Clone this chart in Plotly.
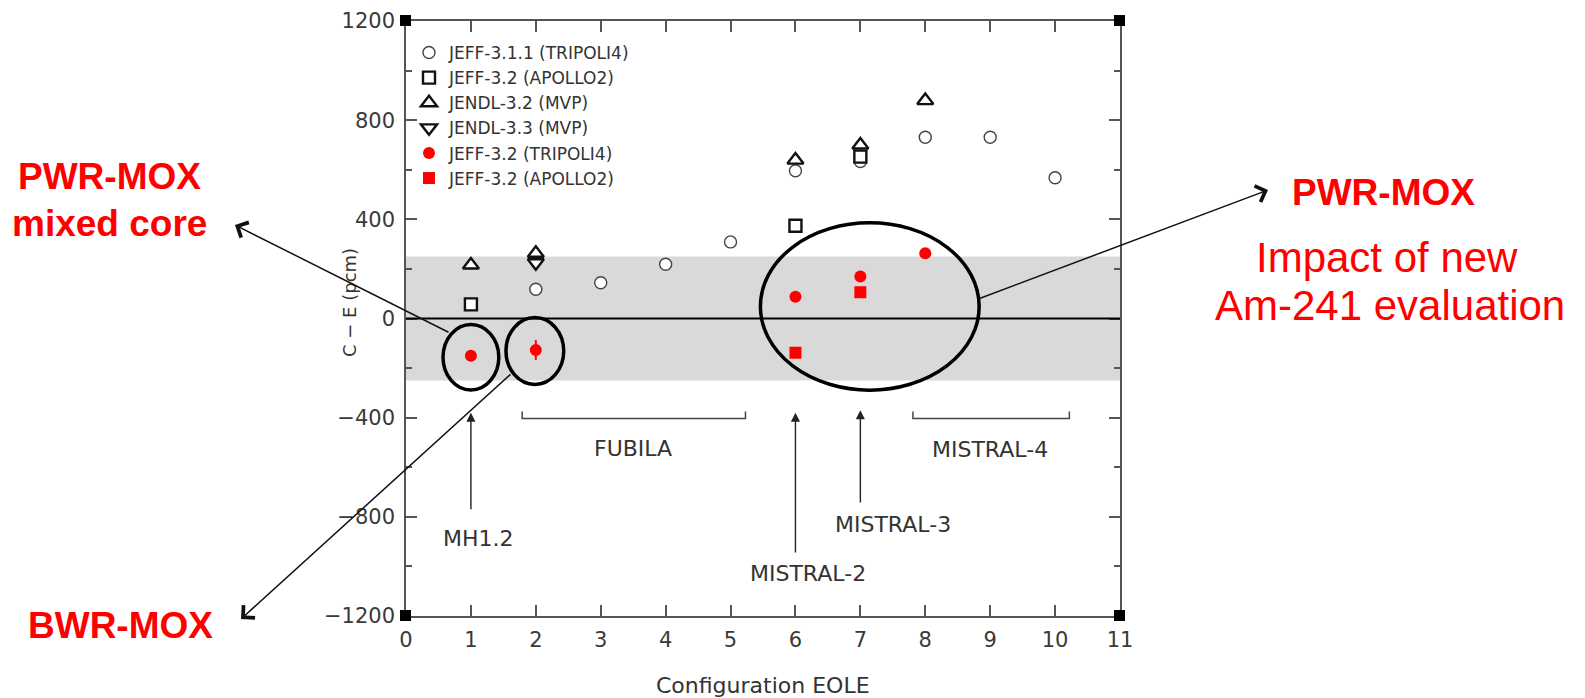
import plotly.graph_objects as go

# ---------------- data ----------------
x_ticks = list(range(0, 12))
y_ticks = [-1200, -800, -400, 0, 400, 800, 1200]

x_jeff311_trip = [2, 3, 4, 5, 6, 7, 8, 9, 10]
y_jeff311_trip = [118, 144, 219, 309, 596, 633, 731, 731, 568]

x_jeff32_apo = [1, 6, 7]
y_jeff32_apo = [57, 374, 653]

x_jendl32 = [1, 2, 6, 7, 8]
y_jendl32 = [216, 263, 639, 700, 879]

x_jendl33 = [2]
y_jendl33 = [225]

x_jeff32_trip = [1, 2, 6, 7, 8]
y_jeff32_trip = [-150, -127, 88, 169, 263]
err_jeff32_trip = [0, 40, 0, 0, 0]

x_jeff32_apo_new = [6, 7]
y_jeff32_apo_new = [-138, 106]

band_limit = 250

# ellipses (x0, x1, y0, y1) in data units
ellipses = [(0.57, 1.43, -288, -24), (1.54, 2.43, -266, 4), (5.46, 8.83, -289, 386)]

# campaign markers: (label, x_arrow, y_head, y_tail, x_label, y_label)
arrow_labels = [
    ("MH1.2", 1, -380, -775, 1.12, -887),
    ("MISTRAL-2", 6, -380, -950, 6.2, -1028),
    ("MISTRAL-3", 7, -370, -748, 7.5, -832),
]
# brackets: (label, x_start, x_end, y, x_label, y_label)
brackets = [
    ("FUBILA", 1.79, 5.23, -403, 3.5, -526),
    ("MISTRAL-4", 7.81, 10.22, -403, 9.0, -528),
]

# ---------------- figure ----------------
BODY = 8                      # default page body margin
W, H = 1585 - BODY, 698 - BODY
PL, PR, PT, PB = 406, 1120, 21, 616      # plot area in page pixels
L, T = PL - BODY, PT - BODY
R, B = W - (PR - BODY), H - (PB - BODY)
PW, PH = PR - PL, PB - PT


def px(X):
    return (X - PL) / PW


def py(Y):
    return (PB - Y) / PH


fig = go.Figure()

fig.add_trace(go.Scatter(
    x=x_jeff311_trip, y=y_jeff311_trip, mode="markers", name="JEFF-3.1.1 (TRIPOLI4)",
    marker=dict(symbol="circle", size=12, color="white", line=dict(color="#444", width=1.4))))
fig.add_trace(go.Scatter(
    x=x_jeff32_apo, y=y_jeff32_apo, mode="markers", name="JEFF-3.2 (APOLLO2)",
    marker=dict(symbol="square", size=12, color="white", line=dict(color="#111", width=2.4))))
fig.add_trace(go.Scatter(
    x=x_jendl32, y=y_jendl32, mode="markers", name="JENDL-3.2 (MVP)",
    marker=dict(symbol="triangle-up", size=14, color="white", line=dict(color="#111", width=2.4))))
fig.add_trace(go.Scatter(
    x=x_jendl33, y=y_jendl33, mode="markers", name="JENDL-3.3 (MVP)",
    marker=dict(symbol="triangle-down", size=14, color="white", line=dict(color="#111", width=2.4))))
fig.add_trace(go.Scatter(
    x=x_jeff32_trip, y=y_jeff32_trip, mode="markers", name="JEFF-3.2 (TRIPOLI4)",
    error_y=dict(type="data", array=err_jeff32_trip, visible=True, color="red", thickness=2, width=0),
    marker=dict(symbol="circle", size=12, color="#ff0000")))
fig.add_trace(go.Scatter(
    x=x_jeff32_apo_new, y=y_jeff32_apo_new, mode="markers", name="JEFF-3.2 (APOLLO2) ",
    marker=dict(symbol="square", size=12, color="#ff0000")))

shapes = []
shapes.append(dict(type="rect", xref="x", yref="y", x0=0, x1=11, y0=-band_limit, y1=band_limit,
                   fillcolor="#d9d9d9", line=dict(width=0), layer="below"))
shapes.append(dict(type="line", xref="x", yref="y", x0=0, x1=11, y0=0, y1=0,
                   line=dict(color="black", width=2.2)))
for (x0, x1, y0, y1) in ellipses:
    shapes.append(dict(type="circle", xref="x", yref="y", x0=x0, x1=x1, y0=y0, y1=y1,
                       line=dict(color="black", width=3.5)))
for (lab, xa, xb, yb, xl, yl) in brackets:
    shapes.append(dict(type="path", xref="x", yref="y",
                       path=f"M{xa},{yb + 28} L{xa},{yb} L{xb},{yb} L{xb},{yb + 28}",
                       line=dict(color="#444", width=1.5)))
for cx in (0, 1):
    for cy in (0, 1):
        shapes.append(dict(type="rect", xref="paper", yref="paper", xsizemode="pixel", ysizemode="pixel",
                           xanchor=cx, yanchor=cy, x0=-6, x1=5, y0=-5, y1=6,
                           fillcolor="black", line=dict(width=0)))

lab_font = dict(family="DejaVu Sans", size=22, color="#333")
C = dict(xanchor="center", yanchor="middle", showarrow=False)
annotations = []
for (lab, xa, yh, yt, xl, yl) in arrow_labels:
    annotations.append(dict(x=xa, y=yh, ax=xa, ay=yt, xref="x", yref="y", axref="x", ayref="y",
                            text="", showarrow=True, arrowhead=2, arrowsize=1.3, arrowwidth=1.4,
                            arrowcolor="#222"))
    annotations.append(dict(x=xl, y=yl, xref="x", yref="y", text=lab, font=lab_font, **C))
for (lab, xa, xb, yb, xl, yl) in brackets:
    annotations.append(dict(x=xl, y=yl, xref="x", yref="y", text=lab, font=lab_font, **C))

annotations.append(dict(x=px(763), y=py(685), xref="paper", yref="paper", text="Configuration EOLE",
                        font=lab_font, **C))
annotations.append(dict(x=px(349), y=py(303), xref="paper", yref="paper", text="C − E (pcm)",
                        textangle=-90, font=dict(family="DejaVu Sans", size=18, color="#333"), **C))

bold = dict(family="Liberation Sans, Arial", size=37, color="#ff0000")
reg = dict(family="Liberation Sans, Arial", size=42, color="#ff0000")
annotations.append(dict(x=px(109), y=py(177), xref="paper", yref="paper",
                        text="<b>PWR-MOX</b>", font=bold, **C))
annotations.append(dict(x=px(109), y=py(223), xref="paper", yref="paper",
                        text="<b>mixed core</b>", font=bold, **C))
annotations.append(dict(x=px(120), y=py(625), xref="paper", yref="paper",
                        text="<b>BWR-MOX</b>", font=bold, **C))
annotations.append(dict(x=px(1383), y=py(193), xref="paper", yref="paper",
                        text="<b>PWR-MOX</b>", font=bold, **C))
annotations.append(dict(x=px(1387), y=py(257), xref="paper", yref="paper",
                        text="Impact of new", font=reg, **C))
annotations.append(dict(x=px(1390), y=py(305), xref="paper", yref="paper",
                        text="Am-241 evaluation", font=reg, **C))

for (hx, hy, tx, ty) in [(235, 225, 450, 333), (241, 619, 512, 373), (1268, 190, 978, 299)]:
    annotations.append(dict(x=px(hx), y=py(hy), xref="paper", yref="paper", text="",
                            ax=tx - hx, ay=ty - hy, axref="pixel", ayref="pixel",
                            showarrow=True, arrowhead=4, arrowsize=2.2, arrowwidth=1.5,
                            arrowcolor="#111"))

axis_common = dict(showgrid=False, zeroline=False, showline=True, linecolor="#555", linewidth=1.5,
                   mirror="ticks", ticks="inside", tickcolor="#555", tickwidth=1.5,
                   tickfont=dict(family="DejaVu Sans", size=21, color="#3a3a3a"))

fig.update_layout(
    width=W, height=H,
    margin=dict(l=L, r=R, t=T, b=B, autoexpand=False),
    paper_bgcolor="white", plot_bgcolor="white",
    showlegend=True,
    legend=dict(x=px(409), y=py(35), xanchor="left", yanchor="top", bgcolor="rgba(0,0,0,0)",
                font=dict(family="DejaVu Sans", size=17, color="#333"), itemwidth=30,
                tracegroupgap=0),
    shapes=shapes, annotations=annotations,
    xaxis=dict(range=[0, 11], tickvals=x_ticks, ticklen=11, ticklabelstandoff=4, **axis_common),
    yaxis=dict(range=[-1200, 1200], tickvals=y_ticks, ticklen=11, ticklabelstandoff=5,
               minor=dict(dtick=200, ticks="inside", ticklen=6, tickcolor="#555", tickwidth=1.5),
               **axis_common),
)

fig.write_html("out.html")
